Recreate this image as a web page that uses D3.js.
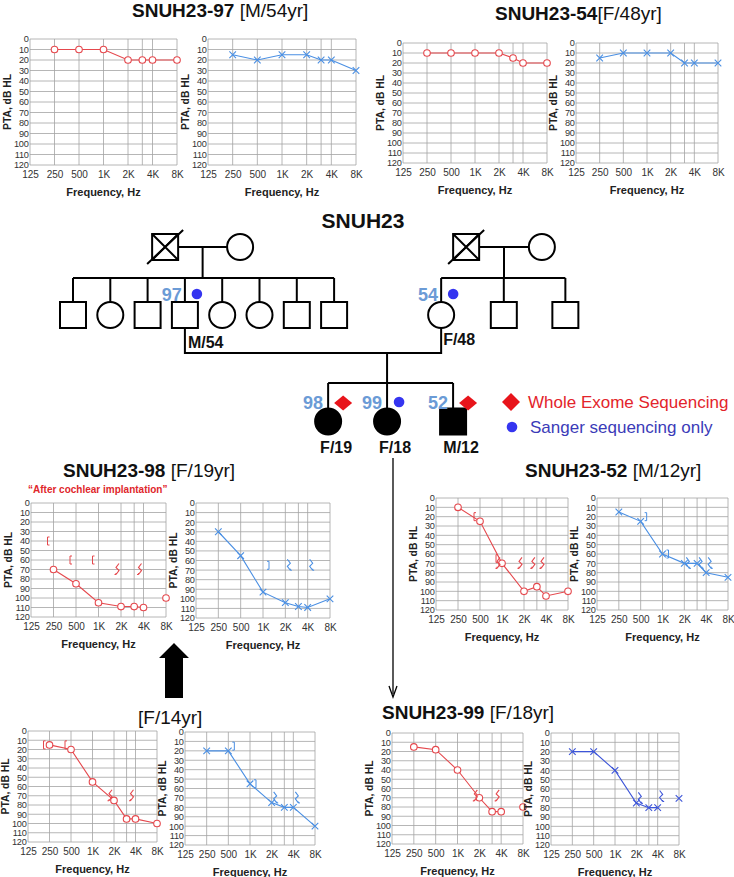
<!DOCTYPE html>
<html><head><meta charset="utf-8">
<script src="https://cdn.jsdelivr.net/npm/d3@7"></script>
<style>body{margin:0;background:#fff} svg{display:block}</style>
</head><body>
<svg id="c" width="734" height="877"></svg>
<script>
// ---------- axis definitions ----------
const freqTicks = [125,250,500,1000,2000,4000,8000];
const freqTickLabels = ["125","250","500","1K","2K","4K","8K"];
const gridFreqs = [125,250,500,1000,2000,3000,4000,8000];
const dbTicks = [0,10,20,30,40,50,60,70,80,90,100,110,120];
const testFreqs = [250,500,1000,2000,3000,4000,8000];

// ---------- audiogram thresholds (dB HL) at testFreqs; null = not joined ----------
const ac97R = [10,10,10,20,20,20,20];
const ac97L = [15,20,15,15,20,20,30];
const ac54R = [10,10,10,10,15,20,20];
const ac54L = [15,10,10,10,20,20,20];
const ac98R = [70,85,105,109,109,110,null];
const ex98R = [[8000,100]];
const bc98R = [[250,40],[500,60],[1000,60]];
const nr98R = [[2000,70],[4000,70]];
const ac98L = [30,55,93,104,108,109,100];
const bc98L = [[1000,65]];
const nr98L = [[2000,65],[4000,65]];
const ac52R = [10,25,70,100,95,105,100];
const bc52R = [[500,20],[1000,65]];
const nr52R = [[1000,70],[2000,70],[3000,70],[4000,70]];
const ac52L = [15,25,60,70,70,80,85];
const bc52L = [[500,20],[1000,60]];
const nr52L = [[2000,70],[3000,70],[4000,70]];
const ac14R = [15,20,55,75,95,95,100];
const bc14R = [[250,15],[500,15]];
const nr14R = [[2000,70],[4000,70]];
const ac14L = [20,20,55,75,80,80,100];
const bc14L = [[500,15],[1000,55]];
const nr14L = [[2000,70],[4000,70]];
const ac99R = [15,18,40,70,85,85,null];
const ex99R = [[8000,80]];
const nr99R = [[2000,68],[4000,68]];
const ac99L = [20,20,40,75,80,80,null];
const ex99L = [[8000,70]];
const nr99L = [[2000,70],[4000,68]];

const RED = "#e5484d", BLUE = "#4a8fe3", BLUE2 = "#3d55d8";
const FONT = "Arial, 'Liberation Sans', sans-serif";

const panels = [
  {x0:30, x1:177, y0:39, y1:165, ear:"R", ac:ac97R},
  {x0:208,x1:356, y0:39, y1:165, ear:"L", ac:ac97L},
  {x0:403,x1:547, y0:43, y1:163, ear:"R", ac:ac54R},
  {x0:576,x1:718, y0:43, y1:163, ear:"L", ac:ac54L},
  {x0:31, x1:166, y0:503,y1:617, ear:"R", ac:ac98R, ex:ex98R, bc:bc98R, nr:nr98R},
  {x0:196,x1:330, y0:503,y1:618, ear:"L", ac:ac98L, bc:bc98L, nr:nr98L},
  {x0:436,x1:568, y0:498,y1:610, ear:"R", ac:ac52R, bc:bc52R, nr:nr52R},
  {x0:597,x1:728, y0:498,y1:610, ear:"L", ac:ac52L, bc:bc52L, nr:nr52L},
  {x0:28, x1:157, y0:731,y1:842, ear:"R", ac:ac14R, bc:bc14R, nr:nr14R},
  {x0:185,x1:315, y0:732,y1:845, ear:"L", ac:ac14L, bc:bc14L, nr:nr14L},
  {x0:392,x1:523, y0:733,y1:844, ear:"R", ac:ac99R, ex:ex99R, nr:nr99R},
  {x0:551,x1:679, y0:733,y1:845, ear:"L", ac:ac99L, ex:ex99L, nr:nr99L, dark:true}
];

const svg = d3.select("#c");

function drawPanel(p){
  const x = d3.scaleLog().base(2).domain([125,8000]).range([p.x0,p.x1]);
  const y = d3.scaleLinear().domain([0,120]).range([p.y0,p.y1]);
  const col = p.ear==="R" ? RED : (p.dark ? BLUE2 : BLUE);
  const g = svg.append("g");
  g.selectAll(".hg").data(dbTicks).join("line")
    .attr("x1",p.x0).attr("x2",p.x1).attr("y1",d=>y(d)).attr("y2",d=>y(d))
    .attr("stroke","#a3a3a3").attr("stroke-width",0.8);
  g.selectAll(".vg").data(gridFreqs).join("line")
    .attr("x1",d=>x(d)).attr("x2",d=>x(d)).attr("y1",p.y0).attr("y2",p.y1)
    .attr("stroke","#a3a3a3").attr("stroke-width",0.8);
  const ya = d3.axisLeft(y).tickValues(dbTicks).tickSize(0).tickPadding(1.5);
  g.append("g").attr("transform",`translate(${p.x0},0)`).call(ya)
    .call(a=>a.select(".domain").remove())
    .selectAll("text").attr("font-size",9.2).attr("letter-spacing",-0.3).attr("font-family",FONT).attr("fill","#333");
  const xa = d3.axisBottom(x).tickValues(freqTicks).tickFormat((d,i)=>freqTickLabels[i]).tickSize(0).tickPadding(6);
  g.append("g").attr("transform",`translate(0,${p.y1})`).call(xa)
    .call(a=>a.select(".domain").remove())
    .selectAll("text").attr("font-size",10).attr("font-family",FONT).attr("fill","#333");
  g.append("text").attr("transform",`translate(${Math.max(p.x0-23,5.5)},${(p.y0+p.y1)/2}) rotate(-90)`)
    .attr("text-anchor","middle").attr("dy","0.35em").attr("font-size",10.3).attr("font-weight","bold")
    .attr("font-family",FONT).attr("fill","#222").text("PTA, dB HL");
  g.append("text").attr("x",(p.x0+p.x1)/2).attr("y",p.y1+27).attr("text-anchor","middle").attr("dy","0.35em")
    .attr("font-size",11).attr("font-weight","bold").attr("font-family",FONT).attr("fill","#222").text("Frequency, Hz");

  const pts = testFreqs.map((f,i)=>({f, v:p.ac[i]})).filter(d=>d.v!==null);
  const line = d3.line().x(d=>x(d.f)).y(d=>y(d.v));
  g.append("path").attr("d",line(pts)).attr("fill","none").attr("stroke",col).attr("stroke-width",1.1);
  const all = pts.concat((p.ex||[]).map(d=>({f:d[0],v:d[1]})));
  if(p.ear==="R"){
    g.selectAll(".m").data(all).join("circle").attr("cx",d=>x(d.f)).attr("cy",d=>y(d.v)).attr("r",3.3)
      .attr("fill","#fff").attr("stroke",col).attr("stroke-width",1.1);
  } else {
    g.selectAll(".m").data(all).join("path")
      .attr("d",d=>{const cx=x(d.f), cy=y(d.v), s=3.3; return `M${cx-s},${cy-s}L${cx+s},${cy+s}M${cx-s},${cy+s}L${cx+s},${cy-s}`;})
      .attr("fill","none").attr("stroke",col).attr("stroke-width",1.1);
  }
  const sgn = p.ear==="R" ? -1 : 1;
  g.selectAll(".bc").data(p.bc||[]).join("path")
    .attr("d",d=>{const cx=x(d[0])+sgn*6, cy=y(d[1]); return `M${cx-sgn*2},${cy-4}H${cx}V${cy+4}H${cx-sgn*2}`;})
    .attr("fill","none").attr("stroke",col).attr("stroke-width",1);
  g.selectAll(".nr").data(p.nr||[]).join("path")
    .attr("d",d=>{const cx=x(d[0])+sgn*3, cy=y(d[1]);
      return `M${cx-sgn*1},${cy-6}L${cx+sgn*2},${cy-2}L${cx-sgn*1},${cy+1}L${cx+sgn*2},${cy+5}M${cx+sgn*2},${cy+5}l${sgn*1.5},0M${cx+sgn*2},${cy+5}l0,-1.5`;})
    .attr("fill","none").attr("stroke",col).attr("stroke-width",1.1);
}
panels.forEach(drawPanel);

// ---------- titles ----------
const titles = [
  {id:"SNUH23-97", info:" [M/54yr]", x:132, y:10},
  {id:"SNUH23-54", info:"[F/48yr]", x:495, y:13},
  {id:"SNUH23-98", info:" [F/19yr]", x:63, y:470},
  {id:"SNUH23-52", info:" [M/12yr]", x:525, y:470},
  {id:"", info:"[F/14yr]", x:138, y:717},
  {id:"SNUH23-99", info:" [F/18yr]", x:382, y:712}
];
titles.forEach(t=>{
  const tx = svg.append("text").attr("x",t.x).attr("y",t.y).attr("dy","0.35em")
    .attr("font-family",FONT).attr("font-size",19).attr("fill","#111");
  tx.append("tspan").attr("font-weight","bold").text(t.id);
  tx.append("tspan").attr("font-weight","normal").text(t.info);
});
svg.append("text").attr("x",28).attr("y",489).attr("dy","0.35em").attr("font-family",FONT)
  .attr("font-size",10).attr("font-weight","bold").attr("fill","#e0262b").text("\u201CAfter cochlear implantation\u201D");

// ---------- arrows ----------
svg.append("path").attr("d","M165,698V658H159L174,643L189,658H183V698Z").attr("fill","#000");
svg.append("line").attr("x1",393).attr("y1",458).attr("x2",393).attr("y2",694).attr("stroke","#000").attr("stroke-width",1.3);
svg.append("path").attr("d","M389,686L393,697L397,686").attr("fill","none").attr("stroke","#000").attr("stroke-width",1.3);

// ---------- pedigree ----------
const gen1 = [{s:"M",u:2.47,dead:true},{s:"F",u:4.48},{s:"M",u:10.54,dead:true},{s:"F",u:12.57}];
const gen2 = [{s:"M",u:0},{s:"F",u:1},{s:"M",u:2},{s:"M",u:3,id:"97",mark:"dot",lab:"M/54"},{s:"F",u:4},{s:"F",u:5},{s:"M",u:6},{s:"M",u:7},
              {s:"F",u:9.87,id:"54",mark:"dot",lab:"F/48"},{s:"M",u:11.55},{s:"M",u:13.2}];
const gen3 = [{s:"F",u:6.84,id:"98",mark:"dia",lab:"F/19"},{s:"F",u:8.42,id:"99",mark:"dot",lab:"F/18"},{s:"M",u:10.19,id:"52",mark:"dia",lab:"M/12"}];
const px = d3.scaleLinear().domain([0,1]).range([73,110.3]);
const genY = d3.scaleOrdinal().domain([1,2,3]).range([247,315,421.5]);
const H = 13;
const P = svg.append("g").attr("stroke","#000").attr("stroke-width",2).attr("fill","none");
function sym(g, d, cy, filled){
  const cx = px(d.u);
  if(d.s==="M") g.append("rect").attr("x",cx-H).attr("y",cy-H).attr("width",2*H).attr("height",2*H).attr("fill",filled?"#000":"#fff");
  else g.append("circle").attr("cx",cx).attr("cy",cy).attr("r",H).attr("fill",filled?"#000":"#fff");
  if(d.dead){
    g.append("path").attr("d",`M${cx-H},${cy-H}L${cx+H},${cy+H}M${cx-H},${cy+H}L${cx+H},${cy-H}`);
    g.append("path").attr("d",`M${cx-18},${cy+17}L${cx+18},${cy-17}`);
  }
}
const y1 = genY(1), y2 = genY(2), y3 = genY(3);
const sib1 = 278, marr = 353, sib2 = 383;
[[0,1],[2,3]].forEach(([a,b])=>{
  P.append("line").attr("x1",px(gen1[a].u)+H).attr("x2",px(gen1[b].u)-H).attr("y1",y1).attr("y2",y1);
  const mx = (px(gen1[a].u)+px(gen1[b].u))/2;
  P.append("line").attr("x1",mx).attr("x2",mx).attr("y1",y1).attr("y2",sib1);
});
P.append("line").attr("x1",px(0)).attr("x2",px(7)).attr("y1",sib1).attr("y2",sib1);
P.append("line").attr("x1",px(9.87)).attr("x2",px(13.2)).attr("y1",sib1).attr("y2",sib1);
gen2.forEach(d=>P.append("line").attr("x1",px(d.u)).attr("x2",px(d.u)).attr("y1",sib1).attr("y2",y2-H));
P.append("path").attr("d",`M${px(3)},${y2+H}V${marr}H${px(9.87)}V${y2+H}`);
P.append("line").attr("x1",px(8.42)).attr("x2",px(8.42)).attr("y1",marr).attr("y2",sib2);
P.append("line").attr("x1",px(6.84)).attr("x2",px(10.19)).attr("y1",sib2).attr("y2",sib2);
gen3.forEach(d=>P.append("line").attr("x1",px(d.u)).attr("x2",px(d.u)).attr("y1",sib2).attr("y2",y3-H));
gen1.forEach(d=>sym(P,d,y1,false));
gen2.forEach(d=>sym(P,d,y2,false));
gen3.forEach(d=>sym(P,d,y3,true));

function marks(list, yNum, off){
  list.filter(d=>d.id).forEach(d=>{
    const cx = px(d.u);
    svg.append("text").attr("x",cx-off).attr("y",yNum).attr("dy","0.35em").attr("text-anchor","end")
      .attr("font-family",FONT).attr("font-size",18).attr("font-weight","bold").attr("fill","#6b9bd6").text(d.id);
    if(d.mark==="dot") svg.append("circle").attr("cx",cx+12).attr("cy",yNum-1).attr("r",5.3).attr("fill","#3535f0");
    else svg.append("path").attr("d",`M${cx+15},${yNum-7.5}l9,7.5l-9,7.5l-9,-7.5Z`).attr("fill","#e8141b");
  });
}
marks(gen2, 295, 3);
marks(gen3, 403, 5);
const lab = (t,x,y,anchor)=>svg.append("text").attr("x",x).attr("y",y).attr("dy","0.35em").attr("text-anchor",anchor)
  .attr("font-family",FONT).attr("font-size",16).attr("font-weight","bold").attr("fill","#111").text(t);
lab(gen2[3].lab, px(3)+3, 342, "start");
lab(gen2[8].lab, px(9.87)+2, 339, "start");
gen3.forEach(d=>lab(d.lab, px(d.u)+8, 447, "middle"));
svg.append("text").attr("x",363).attr("y",221).attr("dy","0.35em").attr("text-anchor","middle")
  .attr("font-family",FONT).attr("font-size",21).attr("font-weight","bold").attr("fill","#111").text("SNUH23");

// legend
svg.append("path").attr("d","M511,393l9,9l-9,9l-9,-9Z").attr("fill","#e8141b");
svg.append("text").attr("x",528).attr("y",402).attr("dy","0.35em").attr("font-family",FONT).attr("font-size",17)
  .attr("fill","#e3242b").text("Whole Exome Sequencing");
svg.append("circle").attr("cx",512).attr("cy",427).attr("r",5.3).attr("fill","#3535f0");
svg.append("text").attr("x",530).attr("y",427).attr("dy","0.35em").attr("font-family",FONT).attr("font-size",17)
  .attr("fill","#3b3bb8").text("Sanger sequencing only");
</script>
</body></html>
